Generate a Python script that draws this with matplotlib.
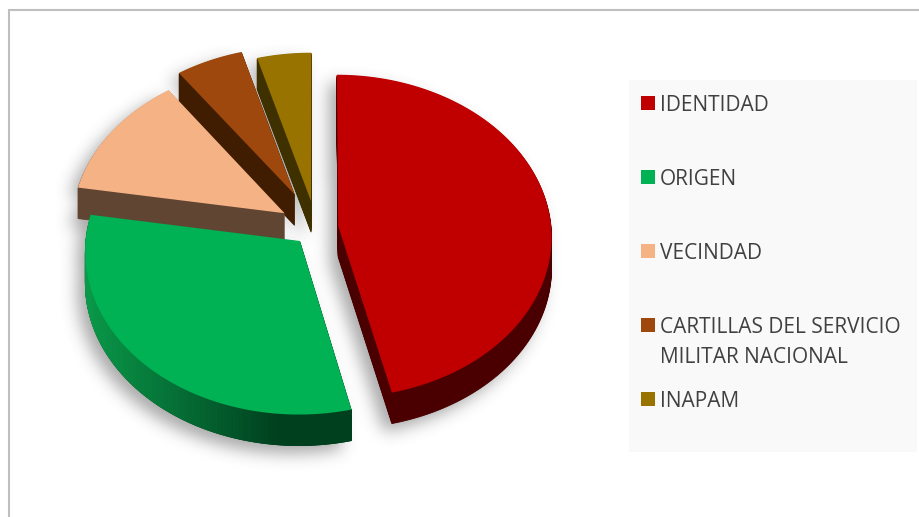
import numpy as np
import matplotlib
matplotlib.use("Agg")
import matplotlib.pyplot as plt
from matplotlib.patches import Polygon, Rectangle
from matplotlib.path import Path
from matplotlib.colors import to_rgb

# ---- data -----------------------------------------------------------
labels = ["IDENTIDAD", "ORIGEN", "VECINDAD",
          "CARTILLAS DEL SERVICIO\nMILITAR NACIONAL", "INAPAM"]
values = [46.3, 31.3, 12.5, 5.5, 4.4]

# ---- style ----------------------------------------------------------
top_colors = ["#C00000", "#00B253", "#F5B285", "#9E480E", "#997300"]
side_colors = ["#4A0000", "#00401F", "#614533", "#401C00", "#3F3000"]
explode = [0.105, 0.11, 0.175, 0.235, 0.17]
W, H = 920, 517
CX, CY, RX, RY, K, DEPTH = 316, 228, 213, 161, 0.0625, 31

fig = plt.figure(figsize=(W / 100, H / 100), dpi=100)
ax = fig.add_axes([0, 0, 1, 1])

wedges, _ = ax.pie(values, explode=explode, startangle=90, counterclock=False,
                   colors=top_colors)
geom = [(w.center, w.theta1, w.theta2) for w in wedges]
for w in wedges:
    w.remove()
ax.set_aspect("auto")
ax.set_xlim(0, W)
ax.set_ylim(H, 0)
ax.axis("off")


def project(u, v):
    w = 1 + K * v
    return CX + RX * u / w, CY - RY * v / w


def outline(center, t1, t2, n=120):
    a = np.radians(np.linspace(t1, t2, n))
    u = np.r_[center[0], center[0] + np.cos(a)]
    v = np.r_[center[1], center[1] + np.sin(a)]
    x, y = project(u, v)
    return np.column_stack([x, y])


tops = [outline(*g) for g in geom]

# soft drop shadow under the whole pie
yy, xx = np.mgrid[0:H, 0:W]
pts = np.column_stack([xx.ravel() + 0.5, yy.ravel() + 0.5])
mask = np.zeros(H * W, bool)
for poly in tops:
    for d in (0, DEPTH):
        mask |= Path(poly + [-8, d + 8]).contains_points(pts)
mask = mask.reshape(H, W).astype(float)
sigma = 8.0
kx = np.exp(-0.5 * (np.arange(-24, 25) / sigma) ** 2)
kx /= kx.sum()
blur = np.apply_along_axis(lambda r: np.convolve(r, kx, "same"), 0, mask)
blur = np.apply_along_axis(lambda r: np.convolve(r, kx, "same"), 1, blur)
rgba = np.zeros((H, W, 4))
rgba[..., :3] = 0.25
rgba[..., 3] = blur * 0.45
ax.imshow(rgba, extent=(0, W, H, 0), zorder=1, aspect="auto", interpolation="bilinear")
ax.set_xlim(0, W)
ax.set_ylim(H, 0)

# frame and legend panel
ax.plot([9, 9, W], [H, 10, 10], color="#BFBFBF", lw=1.5, zorder=0.5,
        solid_joinstyle="miter")
ax.add_patch(Rectangle((629, 80), 288, 372, fc="#F9F9F9", ec="none", zorder=2))

# slices, back to front
z = 3.0
for i in [4, 3, 2, 1, 0]:
    poly = tops[i]
    for d in np.arange(DEPTH, 0, -1.0):
        ax.add_patch(Polygon(poly + [0, d], closed=True, fc=side_colors[i],
                             ec=side_colors[i], lw=0.6, zorder=z))
    if i == 1:  # green rim fades from mid green to dark
        rim = poly[1:]
        c0, c1 = np.array(to_rgb("#0A9A4A")), np.array(to_rgb(side_colors[1]))
        x0, x1 = rim[:, 0].min(), rim[:, 0].min() + 190
        for a, b in zip(rim[:-1], rim[1:]):
            f = np.clip((a[0] - x0) / (x1 - x0), 0, 1)
            col = c0 + (c1 - c0) * f
            ax.add_patch(Polygon([a, b, b + [0, DEPTH], a + [0, DEPTH]], closed=True,
                                 fc=col, ec=col, lw=0.6, zorder=z + 0.1))
    ax.add_patch(Polygon(poly, closed=True, fc=top_colors[i], ec="none", zorder=z + 0.2))
    z += 1

# legend
rows = 103 + 74 * np.arange(len(labels))
for lab, col, y in zip(labels, top_colors, rows):
    ax.add_patch(Rectangle((641, y - 7), 14, 14, fc=col, ec="none", zorder=10))
    ax.text(660, y - 8, lab, family="Open Sans", fontsize=15, color="#404040",
            va="top", ha="left", zorder=11, linespacing=1.55)

fig.savefig("out.png", dpi=100)
